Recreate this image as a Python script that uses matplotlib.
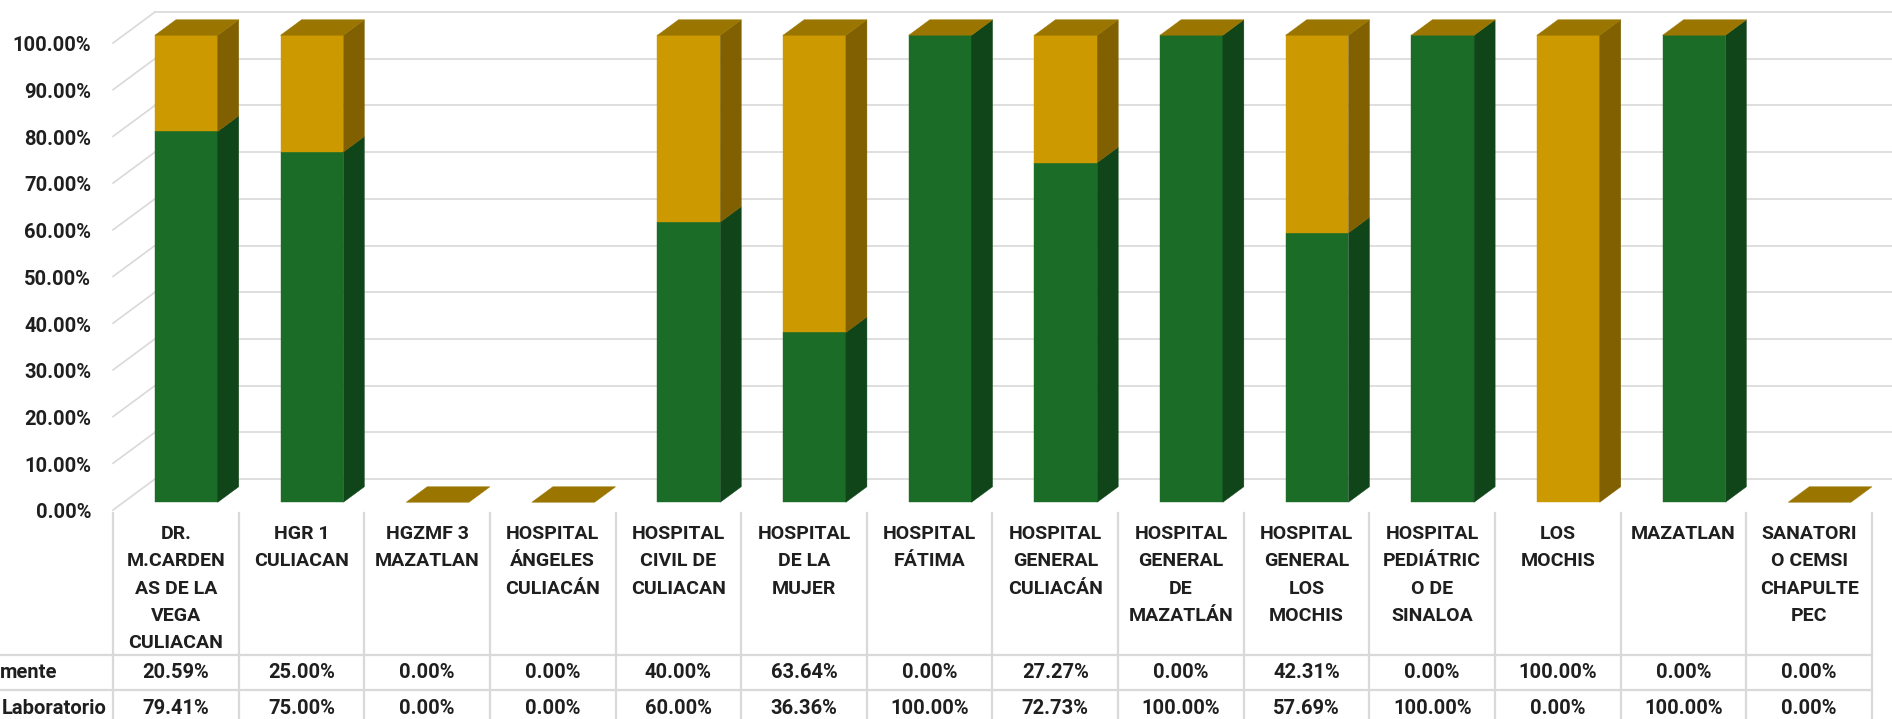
import matplotlib
matplotlib.use("Agg")
import matplotlib.pyplot as plt
from matplotlib.patches import Polygon

plt.rcParams['font.family'] = ['Roboto', 'DejaVu Sans']

# datos
categorias = [
    "DR.\nM.CARDEN\nAS DE LA\nVEGA\nCULIACAN",
    "HGR 1\nCULIACAN",
    "HGZMF 3\nMAZATLAN",
    "HOSPITAL\nÁNGELES\nCULIACÁN",
    "HOSPITAL\nCIVIL DE\nCULIACAN",
    "HOSPITAL\nDE LA\nMUJER",
    "HOSPITAL\nFÁTIMA",
    "HOSPITAL\nGENERAL\nCULIACÁN",
    "HOSPITAL\nGENERAL\nDE\nMAZATLÁN",
    "HOSPITAL\nGENERAL\nLOS\nMOCHIS",
    "HOSPITAL\nPEDIÁTRIC\nO DE\nSINALOA",
    "LOS\nMOCHIS",
    "MAZATLAN",
    "SANATORI\nO CEMSI\nCHAPULTE\nPEC",
]
serie_mente = [20.59, 25.00, 0.00, 0.00, 40.00, 63.64, 0.00, 27.27, 0.00, 42.31, 0.00, 100.00, 0.00, 0.00]
serie_lab = [79.41, 75.00, 0.00, 0.00, 60.00, 36.36, 100.00, 72.73, 100.00, 57.69, 100.00, 0.00, 100.00, 0.00]
nombres_series = ["mente", "Laboratorio"]
ticks_y = [0, 10, 20, 30, 40, 50, 60, 70, 80, 90, 100]

# colores
verde = '#1B6C27'
verde_lado = '#0F4519'
oro = '#CC9900'
oro_lado = '#806000'
oro_tapa = '#9A7600'
gris = '#D9D9D9'
texto = '#1F1F1F'

# geometria (pixeles de la imagen)
W, H = 1892, 719
PX_CAT = 125.64   # px por categoria
PX_PCT = 4.67     # px por punto porcentual
X0 = 113          # borde frontal izquierdo del piso
Y0 = 510          # nivel 0% frontal (desde arriba)

def xd(px):
    return (px - X0) / PX_CAT

def yd(py):
    return (Y0 - py) / PX_PCT

DX = 42 / PX_CAT      # profundidad total
DY = 31 / PX_PCT
ancho = 0.5
fs_num = 14.5

fig = plt.figure(figsize=(W / 100, H / 100), dpi=100)
ax = fig.add_axes([0, 0, 1, 1])
ax.set_xlim(xd(0), xd(W))
ax.set_ylim(yd(H), yd(0))
ax.axis('off')

# paredes con lineas de cuadricula
for p in ticks_y:
    ax.plot([0, DX], [p, p + DY], color=gris, lw=1.2, zorder=1)
    ax.plot([DX, xd(W) + 1], [p + DY, p + DY], color=gris, lw=1.2, zorder=1)
    ax.text(xd(91), p - 0.6, f"{p:.2f}%", ha='right', va='center',
            fontsize=fs_num, fontweight='bold', color=texto)

# barras 3D apiladas
fx_off = 0.25 * DX
fy_off = 0.25 * DY
bx = 0.5 * DX
by = 0.5 * DY
n = len(categorias)
for i in range(n):
    fx = i + 0.5 - ancho / 2 + fx_off
    segs = [(0, serie_lab[i], verde, verde_lado),
            (serie_lab[i], serie_lab[i] + serie_mente[i], oro, oro_lado)]
    for b, t, cf, cs in segs:
        if t - b <= 0:
            continue
        b0 = b + fy_off
        t0 = t + fy_off
        ax.add_patch(Polygon([(fx, b0), (fx + ancho, b0), (fx + ancho, t0), (fx, t0)],
                             closed=True, fc=cf, ec=cf, lw=0.3, zorder=3))
        ax.add_patch(Polygon([(fx + ancho, b0), (fx + ancho + bx, b0 + by),
                              (fx + ancho + bx, t0 + by), (fx + ancho, t0)],
                             closed=True, fc=cs, ec=cs, lw=0.3, zorder=3))
    t0 = serie_lab[i] + serie_mente[i] + fy_off
    ax.add_patch(Polygon([(fx, t0), (fx + ancho, t0), (fx + ancho + bx, t0 + by),
                          (fx + bx, t0 + by)],
                         closed=True, fc=oro_tapa, ec=oro_tapa, lw=0.3, zorder=4))

# tabla de datos
for i in range(n + 1):
    ax.plot([i, i], [yd(513), yd(H) - 1], color=gris, lw=1.6, zorder=1)
for py in [655, 690]:
    ax.plot([xd(0) - 1, n], [yd(py), yd(py)], color=gris, lw=1.6, zorder=1)

for i, cat in enumerate(categorias):
    for k, linea in enumerate(cat.split('\n')):
        ax.text(i + 0.5, yd(534 + k * 27.3), linea, ha='center', va='center',
                fontsize=14, fontweight='bold', color=texto)
    ax.text(i + 0.5, yd(673), f"{serie_mente[i]:.2f}%", ha='center', va='center',
            fontsize=fs_num, fontweight='bold', color=texto)
    ax.text(i + 0.5, yd(708), f"{serie_lab[i]:.2f}%", ha='center', va='center',
            fontsize=fs_num, fontweight='bold', color=texto)

ax.text(xd(0), yd(673), nombres_series[0], ha='left', va='center',
        fontsize=fs_num, fontweight='bold', color=texto)
ax.text(xd(2), yd(708), nombres_series[1], ha='left', va='center',
        fontsize=fs_num, fontweight='bold', color=texto)

fig.savefig('out.png', dpi=100, facecolor='white')
